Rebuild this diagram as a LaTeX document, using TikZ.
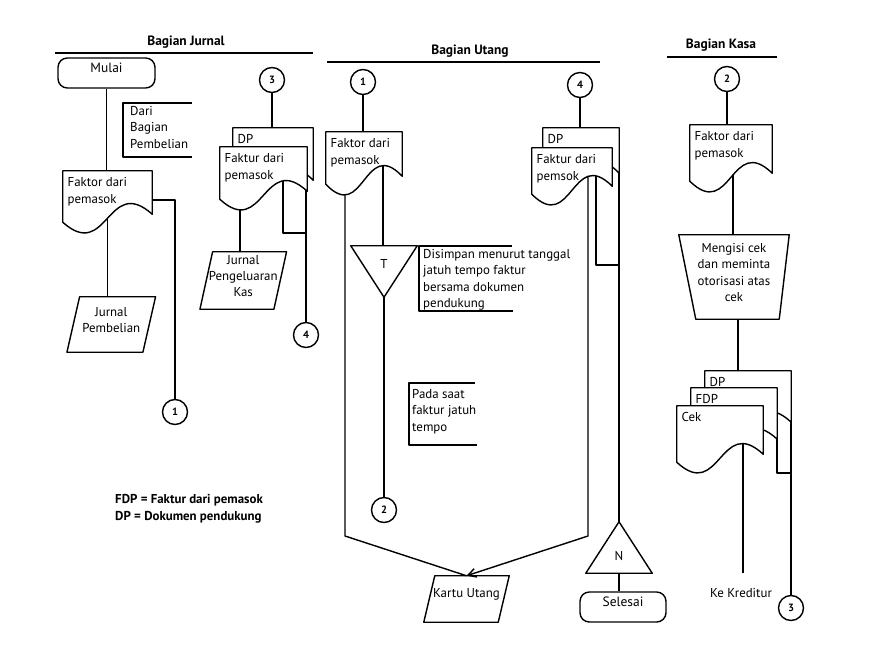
\documentclass[tikz,border=0pt]{standalone}
\usepackage{fontspec}
\setmainfont{PT Sans}
\usetikzlibrary{arrows.meta,fit}
\pgfdeclarelayer{bg}
\pgfsetlayers{bg,main}
\tikzset{
  ln/.style={draw=black, line width=1.2pt, line join=round},
  shp/.style={draw=black, fill=white, line width=1.2pt, line join=round},
  txt/.style={font=\fontsize{11}{14}\selectfont, align=left, inner sep=0pt},
  hdr/.style={font=\fontsize{11.5}{14}\selectfont\bfseries, inner sep=0pt},
  conn/.style={circle, draw, line width=1.2pt, minimum size=7.5mm, inner sep=0pt, fill=white,
    font=\fontsize{9}{10}\selectfont\bfseries},
  term/.style={rectangle, rounded corners=2.8mm, draw, line width=1.2pt, inner sep=0pt,
    font=\fontsize{11.5}{14}\selectfont},
  box/.style={rectangle, draw=none, inner sep=0pt},
}
\newcommand{\fdoc}[6]{%
  \node[box, fit={(#2,#3) (#4,#5)}] (#1) {};
  \filldraw[shp] (#1.north west) -- (#1.north east) -- ([yshift=2.4mm]#1.south east)
    .. controls ([yshift=14.4mm]#1.south) and ([yshift=-12mm]#1.south) .. (#1.south west) -- cycle;
  \node[txt, anchor=north west] (#1-t) at ([xshift=1.4mm,yshift=-2mm]#1.north west) {#6};
}
\newcommand{\plgram}[7]{%
  \node[txt, align=center, fit={(#2,#3) (#4,#5)}] (#1) {#7};
  \draw[ln] ([xshift=#6]#1.north west) -- ([xshift=#6]#1.north east)
    -- ([xshift=-#6]#1.south east) -- ([xshift=-#6]#1.south west) -- cycle;
}
\begin{document}
\begin{tikzpicture}[x=0.3mm,y=-0.3mm]
\begin{pgfonlayer}{bg}
\fill[white] (0,0) rectangle (879,647);
\end{pgfonlayer}
\useasboundingbox (0,0) rectangle (879,647);

% ---------- headers
\node[hdr] (hJ) at (186,42) {Bagian Jurnal};
\node[hdr] (hU) at (470,51) {Bagian Utang};
\node[hdr] (hK) at (721,45) {Bagian Kasa};
\draw[ln] (55,53) -- (313,53);
\draw[ln] (327,62) -- (600,62);
\draw[ln] (667,57) -- (777,57);

% ---------- Bagian Jurnal
\node[term, fit={(58,58) (155,88)}] (mulai) {Mulai};
\node[conn] (c3J) at (272,80) {3};
\node[txt, anchor=north west] (annJ) at (130,106) {Dari\\Bagian\\Pembelian};
\draw[ln] (192,103) -- (123,103) -- (123,157) -- (192,157);
\fdoc{fJ}{63}{171}{152}{222}{Faktor dari\\pemasok}
\plgram{jp}{73.5}{297}{149}{352}{1.9mm}{Jurnal\\Pembelian}
\fdoc{dpJ}{233}{128}{313}{188}{DP}
\fdoc{fkJ}{220}{147}{307}{199}{Faktur dari\\pemasok}
\plgram{jpk}{206.5}{252}{280}{309}{1.9mm}{Jurnal\\Pengeluaran\\Kas}
\node[conn] (c1J) at (175,412) {1};
\node[conn] (c4J) at (306,335) {4};
\node[txt, font=\fontsize{11}{15}\selectfont\bfseries, anchor=north west] (leg) at (115,494)
  {FDP = Faktur dari pemasok\\DP = Dokumen pendukung};

% ---------- Bagian Utang
\node[conn] (c1U) at (363,82) {1};
\fdoc{fU}{326}{132}{402}{184}{Faktor dari\\pemasok}
\node[box, fit={(351,246) (417,297)}] (tri) {};
\draw[shp] (tri.north west) -- (tri.north east) -- (tri.south) -- cycle;
\node[txt] (triL) at (384,264) {T};
\draw[ln] (512,246) -- (419,246) -- (419,311) -- (513,311);
\node[txt, anchor=north west] (annU1) at (423,249)
  {Disimpan menurut tanggal\\jatuh tempo faktur\\bersama dokumen\\pendukung};
\node[conn] (c2U) at (384,510) {2};
\draw[ln] (475,383) -- (409,383) -- (409,445) -- (477,445);
\node[txt, anchor=north west] (annU2) at (412,389) {Pada saat\\faktur jatuh\\tempo};
\node[conn] (c4U) at (580,85) {4};
\fdoc{dpU}{543}{128}{619}{181}{DP}
\fdoc{fkU}{532}{148}{612}{194}{Faktur dari\\pemsok}
\node[box, fit={(586,522) (652,573)}] (nt) {};
\draw[shp] (nt.south west) -- (nt.south east) -- (nt.north) -- cycle;
\node[txt] (ntL) at (619,556) {N};
\node[term, fit={(580,592) (666,622)}] (sel) {Selesai};
\plgram{ku}{429.5}{576}{503.5}{622}{1.65mm}{Kartu Utang}

% ---------- Bagian Kasa
\node[conn] (c2K) at (727,79) {2};
\fdoc{fK}{690}{125}{772}{181}{Faktor dari\\pemasok}
\node[txt, align=center, fit={(679,235) (789,319)}] (mo) {Mengisi cek\\dan meminta\\otorisasi atas\\cek};
\draw[ln] (mo.north west) -- (mo.north east) -- ([xshift=-3mm]mo.south east) -- ([xshift=5.1mm]mo.south west) -- cycle;
\fdoc{dpK}{705}{371}{791}{430}{DP}
\fdoc{fdpK}{691}{388}{777}{447}{FDP}
\fdoc{cek}{677}{406}{763}{462}{Cek}
\coordinate (kk) at (743,573);
\node[txt] (kred) at (741,593) {Ke Kreditur};
\node[conn] (c3K) at (791,608) {3};

% ---------- connectors
\begin{pgfonlayer}{bg}
\draw[ln] (mulai) -- (mulai |- fJ.north);
\draw[ln] (fJ.center) -- (fJ.center |- jp.north);
\draw[ln] (fJ.center |- 0,200) -| (c1J);
\draw[ln] (c3J) -- (c3J |- dpJ.north);
\draw[ln] (240,0 |- fkJ.center) -- (240,0 |- jpk.north);
\draw[ln] (283,0 |- fkJ.center) |- (c4J.center |- 0,233);
\draw[ln] (c4J.center |- dpJ.center) -- (c4J);

\draw[ln] (c1U) -- (c1U |- fU.north);
\draw[ln] (345,0 |- fU.center) -- (345,536) -- (ku.north);
\draw[ln] (383,0 |- fU.center) -- (383,0 |- tri.north);
\draw[ln] (tri.south) -- (c2U);
\draw[ln] (c4U) -- (c4U |- dpU.north);
\draw[ln, -{Straight Barb[length=2.4mm,width=2.6mm]}] (588,0 |- fkU.center) -- (588,536) -- (ku.north);
\draw[ln] (596,0 |- fkU.center) |- (nt.north |- 0,265);
\draw[ln] (nt.north |- dpU.center) -- (nt.north);
\draw[ln] (nt.south) -- (nt.south |- sel.north);

\draw[ln] (c2K) -- (c2K |- fK.north);
\draw[ln] (733,0 |- fK.center) -- (733,0 |- mo.north);
\draw[ln] (738,0 |- mo.south) -- (738,0 |- dpK.north);
\draw[ln] (743,0 |- cek.center) -- (kk);
\draw[ln] (777,0 |- fdpK.center) |- (c3K.center |- 0,473);
\draw[ln] (c3K.center |- dpK.center) -- (c3K);
\end{pgfonlayer}
\end{tikzpicture}
\end{document}
